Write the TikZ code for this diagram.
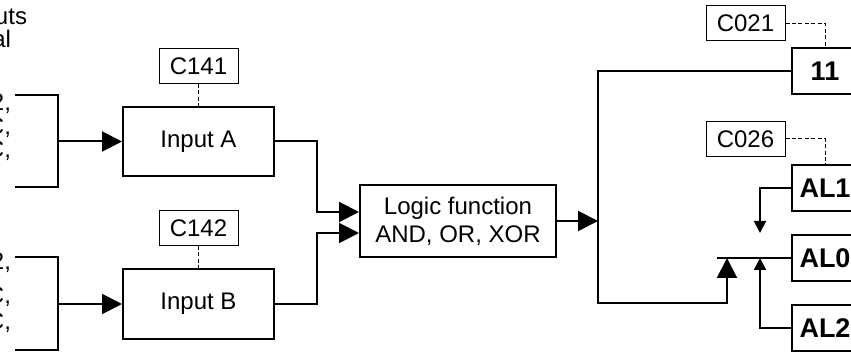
\documentclass[tikz,border=0pt]{standalone}
\usepackage{fontspec}
\setmainfont{Liberation Sans}
\usetikzlibrary{arrows.meta}
\begin{document}
\begin{tikzpicture}[x=0.5pt, y=-0.5pt, line width=1pt,
  every node/.style={font=\fontsize{12}{14}\selectfont},
  frag/.style={anchor=base east, inner sep=0pt},
  blk/.style={draw, line width=1pt, inner sep=0pt, minimum width=75.5pt, minimum height=34.5pt},
  cbox/.style={draw, line width=0.5pt, inner sep=0pt, minimum width=39.5pt, minimum height=17.5pt},
  lbl/.style={draw, line width=1pt, inner sep=0pt, minimum width=33pt, minimum height=23pt,
    font=\fontsize{13.5}{15}\selectfont\bfseries},
  link/.style={line width=0.5pt, dash pattern=on 2pt off 1.2pt},
  tipL/.style={-{Triangle[length=10pt, width=10pt]}},
  tipS/.style={-{Triangle[length=6pt, width=6pt]}}]
  \useasboundingbox (0,0) rectangle (851,352);
  \clip (0,0) rectangle (851,352);

  \node[frag] (t1) at (28,25) {uts};
  \node[frag] (t2) at (12,48) {al};
  \node[frag] (a1) at (12,111) {2,};
  \node[frag] (a2) at (12,135) {C,};
  \node[frag] (a3) at (12,158) {C,};
  \node[frag] (b1) at (12,270) {2,};
  \node[frag] (b2) at (12,304) {C,};
  \node[frag] (b3) at (12,329) {C,};

  \node[blk] (inA) at (198.5,141.5) {Input A};
  \node[cbox] (cA) at (198.5,66) {C141};
  \node[blk] (inB) at (198.5,304) {Input B};
  \node[cbox] (cB) at (198.5,228) {C142};
  \node[blk, minimum width=98pt, minimum height=36pt, align=center] (logic) at (458,221)
    {Logic function\\AND, OR, XOR};
  \node[cbox] (cOut) at (745.5,23.5) {C021};
  \node[lbl] (out) at (825,71.5) {11};
  \node[cbox] (cAl) at (745.5,139) {C026};
  \foreach \n/\y in {1/188, 0/258, 2/328}
    \node[lbl] (al\n) at (825,\y) {AL\n};

  \coordinate (aTop) at (15,95);  \coordinate (aMid) at (58,141.5); \coordinate (aBot) at (15,187);
  \coordinate (bTop) at (15,257); \coordinate (bMid) at (58,304);   \coordinate (bBot) at (15,350);
  \draw (aTop) -| (aMid) |- (aBot);
  \draw (bTop) -| (bMid) |- (bBot);
  \draw[tipL] (aMid) -- (inA.west);
  \draw[tipL] (bMid) -- (inB.west);

  \coordinate (jA) at (317,212);
  \coordinate (jB) at (317,233);
  \draw[tipL] (inA.east) -| (jA) -- (jA -| logic.west);
  \draw[tipL] (inB.east) -| (jB) -- (jB -| logic.west);

  \coordinate (busT) at (598,71.5);
  \coordinate (busB) at (598,303);
  \coordinate (fb) at (727,258);
  \coordinate (sumL) at (717,258);
  \coordinate (al1tip) at (760,233);
  \coordinate (al2tip) at (760,258);
  \draw[tipL] (logic.east) -- (logic.east -| busT);
  \draw[tipL] (out.west) -- (busT) -- (busB) -| (fb);
  \draw (al0.west) -- (sumL);
  \draw[tipS] (al1.west) -| (al1tip);
  \draw[tipS] (al2.west) -| (al2tip);

  \draw[link] (cA) -- (inA);
  \draw[link] (cB) -- (inB);
  \draw[link] (cOut.east) -| (out.north);
  \draw[link] (cAl.east) -| (al1.north);
\end{tikzpicture}
\end{document}
